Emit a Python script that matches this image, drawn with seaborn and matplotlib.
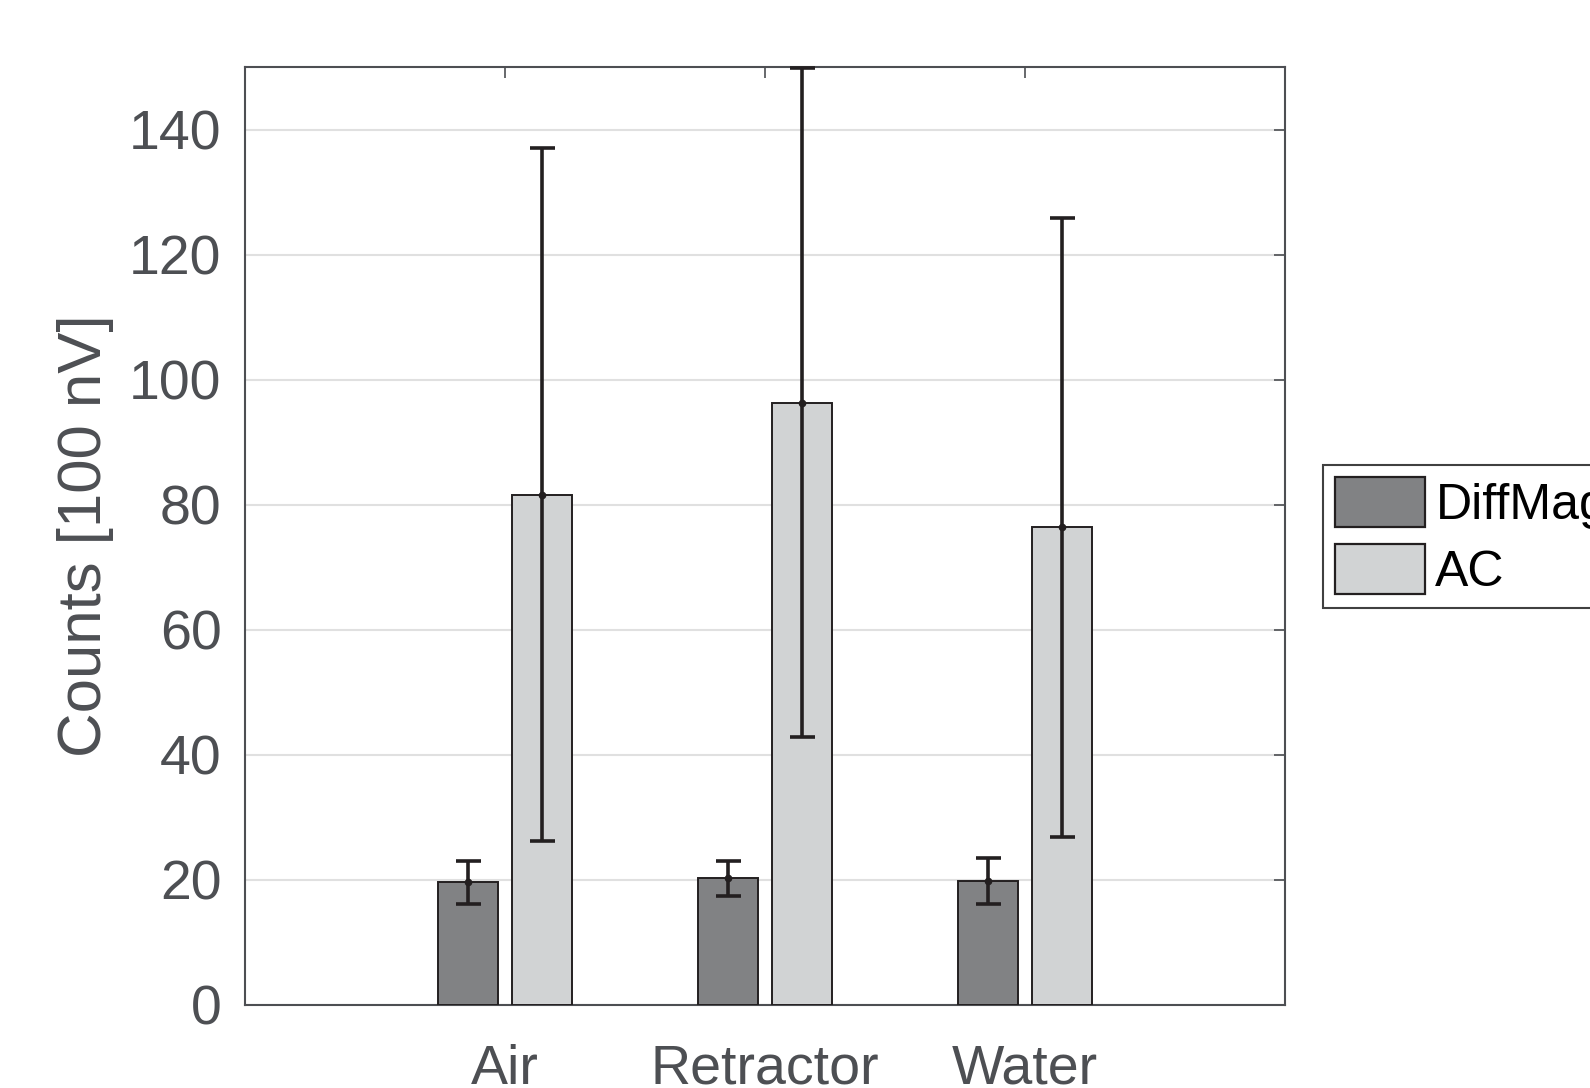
import seaborn as sns
import pandas as pd
import matplotlib.pyplot as plt
import numpy as np

sites = ["Air", "Retractor", "Water"]
methods = ["DiffMag", "AC"]
diffmag_mean = [19.6, 20.3, 19.8]
diffmag_err = [3.5, 2.8, 3.7]
ac_mean = [81.6, 96.3, 76.4]
ac_err = [55.4, 53.5, 49.5]
yticks = [0, 20, 40, 60, 80, 100, 120, 140]

df = pd.DataFrame({
    "site": sites * 2,
    "method": [methods[0]] * 3 + [methods[1]] * 3,
    "counts": diffmag_mean + ac_mean,
    "err": diffmag_err + ac_err,
})

sns.set_style("white")
plt.rcParams["font.family"] = ["Liberation Sans", "DejaVu Sans"]

txt = "#4d4f53"
dark = "#231f20"

fig = plt.figure(figsize=(15.9, 10.88), dpi=100)
ax = fig.add_axes([0.1541, 0.0763, 0.8082 - 0.1541, 0.9384 - 0.0763])

sns.barplot(data=df, x="site", y="counts", hue="method", order=sites,
            hue_order=methods, palette=["#808285", "#d1d3d4"],
            width=0.572, gap=0.196, errorbar=None, ax=ax,
            edgecolor=dark, linewidth=1.4, zorder=3)

# error bars at bar centres
for cont, m in zip(ax.containers, methods):
    sub = df[df["method"] == m].set_index("site").loc[sites]
    xs = [p.get_x() + p.get_width() / 2 for p in cont.patches]
    ax.errorbar(xs, sub["counts"], yerr=sub["err"], fmt=".", color=dark,
                ecolor=dark, elinewidth=2.6, capsize=9, capthick=2.6,
                markersize=9, zorder=4, clip_on=False)

ax.set_xlim(-1, 3)
ax.set_ylim(0, 150)
ax.set_yticks(yticks)
ax.set_xlabel("")
ax.set_ylabel("Counts [100 nV]", fontsize=44.5, color=txt, labelpad=11)
ax.yaxis.grid(True, color="#e0e0e0", linewidth=1.5, zorder=0)
ax.set_axisbelow(True)

ax.tick_params(axis="both", direction="in", length=8, width=1.2,
               color=txt, labelsize=40, labelcolor=txt,
               top=True, right=True)
ax.tick_params(axis="y", pad=17)
ax.tick_params(axis="x", pad=28)
for s in ax.spines.values():
    s.set_visible(True)
    s.set_color(txt)
    s.set_linewidth(1.5)

leg = ax.legend(loc="lower left", bbox_to_anchor=(0.832, 0.441),
                bbox_transform=fig.transFigure, fontsize=36,
                frameon=True, fancybox=False, framealpha=1,
                edgecolor="#404040", handlelength=1.8, handleheight=1.15,
                labelspacing=0.3, handletextpad=0.2, borderpad=0.25,
                borderaxespad=0)
leg.get_frame().set_linewidth(1.5)
for t in leg.get_texts():
    t.set_color("black")
for h in leg.legend_handles:
    h.set_edgecolor(dark)
    h.set_linewidth(1.6)

fig.savefig("out.png", dpi=100)
